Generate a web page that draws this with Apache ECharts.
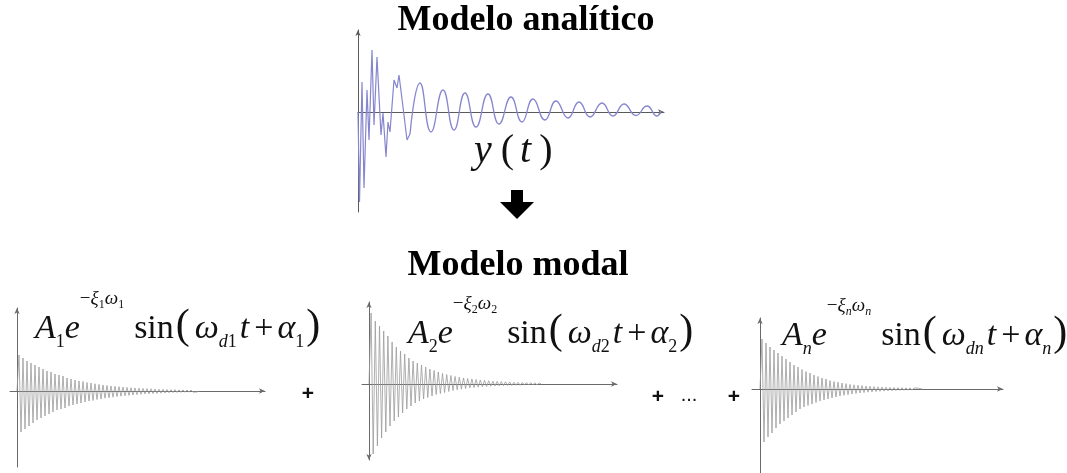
<!DOCTYPE html>
<html>
<head>
<meta charset="utf-8">
<script src="https://cdn.jsdelivr.net/npm/echarts@6/dist/echarts.min.js"></script>
<style>
  html, body { margin: 0; padding: 0; background: #ffffff; }
  #chart { width: 1067px; height: 473px; }
</style>
</head>
<body>
<div id="chart"></div>
<script>
// Analytic response y(t): irregular start, then a slowly decaying oscillation
const burstTimes  = [0, 0.15, 0.4, 0.6, 0.9, 1.1, 1.4, 1.6, 1.9, 2.3, 2.5, 2.8, 3.0, 3.2, 3.6, 3.9, 4.1, 4.5, 4.9, 5.2];
const burstValues = [0, -9.0, 3.0, -7.6, 2.2, -2.8, 6.2, -1.3, 5.5, -2.3, -0.1, -4.5, -1.0, -2.0, 3.2, 2.4, 3.7, 0.5, -2.8, -2.2];
const waveTimes   = [5.2, 6.2, 7.3, 8.5, 9.6, 10.7, 11.8, 13.0, 14.1, 15.3, 16.4, 17.5, 18.7, 19.8, 21.0, 22.1, 23.2, 24.4, 25.5, 26.6, 27.8, 28.9, 29.9, 30.3];
const waveValues  = [-2.2, 2.9, -2.0, 2.2, -1.8, 1.9, -1.5, 1.8, -1.2, 1.5, -1.0, 1.3, -0.8, 1.1, -0.6, 1.0, -0.5, 0.9, -0.4, 0.8, -0.35, 0.6, -0.4, 0.1];

// Modal responses: successive extremes of each damped sinusoid
const modeSteps = [0.2, 0.21, 0.2];
const mode1Values = [0, 3.6, -4.1, 3.3, -3.8, 3.0, -3.5, 2.8, -3.2, 2.6, -2.9, 2.4, -2.7, 2.2, -2.5, 2.0, -2.3, 1.9, -2.1, 1.7, -1.9, 1.6, -1.8, 1.5, -1.7, 1.3, -1.5, 1.2, -1.4, 1.1, -1.3, 1.0, -1.2, 0.95, -1.1, 0.85, -1.0, 0.8, -0.95, 0.72, -0.85, 0.66, -0.8, 0.6, -0.72, 0.55, -0.68, 0.5, -0.62, 0.47, -0.56, 0.43, -0.52, 0.4, -0.48, 0.36, -0.44, 0.33, -0.4, 0.3, -0.36, 0.28, -0.33, 0.26, -0.3, 0.24, -0.28, 0.22, -0.26, 0.2, -0.24, 0.18, -0.22, 0.17, -0.2, 0.15, -0.18, 0.14, -0.16, 0.13, -0.15, 0.12, -0.14, 0.11, -0.13, 0.1, -0.12, 0.1, -0.11, 0.09, -0.1, 0];
const mode2Values = [0, 7.1, -7.0, 6.3, -6.2, 5.8, -5.4, 5.3, -4.8, 4.8, -4.2, 4.2, -3.7, 3.7, -3.3, 3.3, -2.9, 3.0, -2.5, 2.6, -2.2, 2.3, -1.9, 2.1, -1.7, 1.9, -1.5, 1.7, -1.35, 1.5, -1.2, 1.35, -1.05, 1.2, -0.95, 1.05, -0.85, 0.95, -0.75, 0.85, -0.65, 0.75, -0.58, 0.68, -0.52, 0.6, -0.46, 0.55, -0.4, 0.5, -0.36, 0.45, -0.32, 0.4, -0.28, 0.36, -0.25, 0.32, -0.22, 0.28, -0.2, 0.26, -0.18, 0.24, -0.16, 0.22, -0.15, 0.2, -0.14, 0.18, -0.13, 0.16, -0.12, 0.15, -0.11, 0.14, -0.1, 0.13, -0.1, 0.12, -0.09, 0.1, 0];
const mode3Values = [0, 5.0, -5.3, 4.6, -4.8, 4.2, -4.4, 3.9, -3.9, 3.6, -3.5, 3.3, -3.2, 3.0, -2.9, 2.7, -2.6, 2.4, -2.3, 2.2, -2.0, 1.95, -1.8, 1.75, -1.65, 1.6, -1.5, 1.4, -1.35, 1.25, -1.2, 1.1, -1.1, 1.0, -1.0, 0.85, -0.9, 0.75, -0.8, 0.68, -0.7, 0.6, -0.63, 0.53, -0.56, 0.46, -0.5, 0.42, -0.45, 0.38, -0.4, 0.34, -0.36, 0.3, -0.32, 0.27, -0.29, 0.24, -0.26, 0.22, -0.23, 0.2, -0.21, 0.18, -0.19, 0.16, -0.17, 0.15, -0.15, 0.14, -0.14, 0.13, -0.13, 0.12, -0.12, 0.11, -0.11, 0.1, -0.1, 0.09, -0.09, 0];
const modeIndices = ['1', '2', 'n'];

// Text
const titleTop = 'Modelo analítico';
const titleBottom = 'Modelo modal';

const SERIF = '"Liberation Serif","Times New Roman",serif';
const SANS = '"Liberation Sans",Arial,sans-serif';

const pairs = (xs, ys) => xs.map((x, i) => [x, ys[i]]);
const sampled = (vals, step) => vals.map((v, i) => [+(i * step).toFixed(3), v]);

const chart = echarts.init(document.getElementById('chart'), null, { renderer: 'canvas' });

const grids = [
  { left: 358, top: 30,  width: 306, height: 182 },
  { left: 10,  top: 308, width: 255, height: 159 },
  { left: 362, top: 302, width: 255, height: 158 },
  { left: 752, top: 318, width: 251, height: 155 }
];
const xRanges = [[0, 30.6], [-0.7, 24.8], [-0.7, 24.8], [-0.8, 24.3]];
const yRanges = [[-10, 8.2], [-7.6, 8.3], [-7.6, 8.2], [-8.4, 7.1]];
const axisColors = ['#5a5a5a', '#6a6a6a', '#6a6a6a', '#6a6a6a'];
const yArrows = [['none', 'arrow'], ['none', 'arrow'], ['arrow', 'arrow'], ['none', 'arrow']];

const xAxes = grids.map((g, i) => ({
  type: 'value', gridIndex: i, min: xRanges[i][0], max: xRanges[i][1],
  axisLine: { show: true, onZero: true, symbol: ['none', 'arrow'], symbolSize: [4, 6],
              lineStyle: { color: axisColors[i], width: 1 } },
  axisTick: { show: false }, axisLabel: { show: false }, splitLine: { show: false }
}));
const yAxes = grids.map((g, i) => ({
  type: 'value', gridIndex: i, min: yRanges[i][0], max: yRanges[i][1],
  axisLine: { show: true, onZero: true, symbol: yArrows[i], symbolSize: [4, 6],
              lineStyle: { color: axisColors[i], width: 1 } },
  axisTick: { show: false }, axisLabel: { show: false }, splitLine: { show: false }
}));

const traceBase = { type: 'line', showSymbol: false, symbol: 'none', silent: true, clip: false, animation: false, sampling: null };
const modalColor = '#9a9a9a';
const analyticColor = '#8686cf';

const series = [
  Object.assign({}, traceBase, { xAxisIndex: 0, yAxisIndex: 0, data: pairs(burstTimes, burstValues),
    lineStyle: { color: analyticColor, width: 1.2 } }),
  Object.assign({}, traceBase, { xAxisIndex: 0, yAxisIndex: 0, smooth: 0.5, data: pairs(waveTimes, waveValues),
    lineStyle: { color: analyticColor, width: 1.3 } }),
  Object.assign({}, traceBase, { xAxisIndex: 1, yAxisIndex: 1, data: sampled(mode1Values, modeSteps[0]),
    lineStyle: { color: modalColor, width: 0.8 } }),
  Object.assign({}, traceBase, { xAxisIndex: 2, yAxisIndex: 2, data: sampled(mode2Values, modeSteps[1]),
    lineStyle: { color: modalColor, width: 0.8 } }),
  Object.assign({}, traceBase, { xAxisIndex: 3, yAxisIndex: 3, data: sampled(mode3Values, modeSteps[2]),
    lineStyle: { color: modalColor, width: 0.8 } })
];

// Rich-text styles for the modal term A_k e^{-xi_k omega_k} sin(omega_dk t + alpha_k)
const mainSize = 34;
const formulaRich = {
  A:      { font: `italic ${mainSize}px ${SERIF}`, height: 34, verticalAlign: 'bottom', fill: '#111' },
  e:      { font: `italic ${mainSize}px ${SERIF}`, height: 34, verticalAlign: 'bottom', fill: '#111' },
  it:     { font: `italic ${mainSize}px ${SERIF}`, height: 34, verticalAlign: 'bottom', fill: '#111' },
  itW:    { font: `italic ${mainSize}px ${SERIF}`, height: 34, verticalAlign: 'bottom', fill: '#111', padding: [0, 0, 0, 3] },
  itT:    { font: `italic ${mainSize}px ${SERIF}`, height: 34, verticalAlign: 'bottom', fill: '#111', padding: [0, 0, 0, 3] },
  rm:     { font: `${mainSize}px ${SERIF}`, height: 34, verticalAlign: 'bottom', fill: '#111', padding: [0, 0, 0, 10] },
  op:     { font: `${mainSize}px ${SERIF}`, height: 34, verticalAlign: 'bottom', fill: '#111', padding: [0, 4, 0, 5] },
  paren:  { font: `${42}px ${SERIF}`, height: 40, verticalAlign: 'bottom', fill: '#111', padding: [0, 2, 0, 2] },
  sub:    { font: `18px ${SERIF}`, height: 9.2, verticalAlign: 'bottom', fill: '#111' },
  subI:   { font: `italic 18px ${SERIF}`, height: 9.2, verticalAlign: 'bottom', fill: '#111' },
  supRm:  { font: `19px ${SERIF}`, height: 94.8, verticalAlign: 'bottom', fill: '#111' },
  sup:    { font: `italic 19px ${SERIF}`, height: 94.8, verticalAlign: 'bottom', fill: '#111' },
  supSub: { font: `12px ${SERIF}`, height: 84.1, verticalAlign: 'bottom', fill: '#111' },
  supSubI:{ font: `italic 12px ${SERIF}`, height: 84.1, verticalAlign: 'bottom', fill: '#111' }
};
function modalTerm(k) {
  const italicIdx = isNaN(+k);
  const s = italicIdx ? 'subI' : 'sub';
  const ss = italicIdx ? 'supSubI' : 'supSub';
  return `{A|A}{${s}|${k}}{e|e}{supRm|−}{sup|ξ}{${ss}|${k}}{sup|ω}{${ss}|${k}}` +
         `{rm|sin}{paren|(}{itW|ω}{subI|d}{${s}|${k}}{itT|t}{op|+}{it|α}{${s}|${k}}{paren|)}`;
}
const termPlaces = [[35, 341], [408, 346], [782, 348]];

const centered = { align: 'center', textAlign: 'center', verticalAlign: 'middle', textVerticalAlign: 'middle' };

const graphic = [
  { type: 'text', silent: true, style: Object.assign({ text: titleTop, x: 526, y: 21, font: `bold 36px ${SERIF}`, fill: '#000' }, centered) },
  { type: 'text', silent: true, style: Object.assign({ text: titleBottom, x: 518, y: 266, font: `bold 36px ${SERIF}`, fill: '#000' }, centered) },
  { type: 'text', silent: true, style: {
      text: '{y|y}{p|(}{t|t}{p|)}', x: 474, y: 171.5, align: 'left', textAlign: 'left',
      verticalAlign: 'bottom', textVerticalAlign: 'bottom',
      rich: {
        y: { font: `italic 40px ${SERIF}`, height: 40, verticalAlign: 'bottom', fill: '#111', padding: [0, 9, 0, 0] },
        p: { font: `40px ${SERIF}`, height: 40, verticalAlign: 'bottom', fill: '#111' },
        t: { font: `italic 40px ${SERIF}`, height: 40, verticalAlign: 'bottom', fill: '#111', padding: [0, 8, 0, 6] }
      } } },
  { type: 'polygon', silent: true, shape: { points: [[511, 190], [523, 190], [523, 202], [534, 202], [517, 219], [500, 202], [511, 202]] },
    style: { fill: '#000' } },
  { type: 'text', silent: true, style: Object.assign({ text: '+', x: 308, y: 394, font: `bold 21px ${SANS}`, fill: '#111' }, centered) },
  { type: 'text', silent: true, style: Object.assign({ text: '+', x: 658, y: 397, font: `bold 21px ${SANS}`, fill: '#111' }, centered) },
  { type: 'text', silent: true, style: Object.assign({ text: '...', x: 689, y: 395, font: `20px ${SANS}`, fill: '#111' }, centered) },
  { type: 'text', silent: true, style: Object.assign({ text: '+', x: 734, y: 397, font: `bold 21px ${SANS}`, fill: '#111' }, centered) }
].concat(modeIndices.map((k, i) => ({
  type: 'text', silent: true, style: {
    text: modalTerm(k), x: termPlaces[i][0], y: termPlaces[i][1] + 5.5,
    align: 'left', textAlign: 'left', verticalAlign: 'bottom', textVerticalAlign: 'bottom',
    rich: formulaRich
  }
})));

chart.setOption({
  animation: false,
  backgroundColor: '#ffffff',
  grid: grids.map(g => Object.assign({ containLabel: false }, g)),
  xAxis: xAxes,
  yAxis: yAxes,
  series: series,
  graphic: graphic
});
</script>
</body>
</html>
